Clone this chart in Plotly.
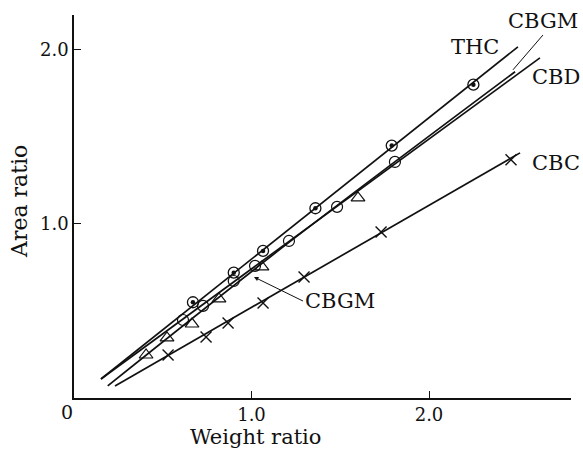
import plotly.graph_objects as go

# Measured points (weight ratio vs. area ratio)
thc_x = [0.67, 0.90, 1.065, 1.36, 1.79, 2.25]
thc_y = [0.55, 0.72, 0.845, 1.09, 1.45, 1.80]

cbd_x = [0.614, 0.727, 0.90, 1.02, 1.211, 1.482, 1.808]
cbd_y = [0.448, 0.529, 0.672, 0.759, 0.902, 1.098, 1.356]

cbgm_x = [0.406, 0.524, 0.665, 0.817, 1.059, 1.60]
cbgm_y = [0.247, 0.345, 0.425, 0.569, 0.753, 1.149]

cbc_x = [0.530, 0.744, 0.868, 1.065, 1.296, 1.730, 2.462]
cbc_y = [0.247, 0.351, 0.431, 0.546, 0.695, 0.954, 1.368]

# Fitted calibration curves
thc_fit_x = [0.152, 2.501]
thc_fit_y = [0.109, 2.017]
cbd_fit_x = [0.152, 2.625]
cbd_fit_y = [0.109, 1.954]
cbgm_fit_x = [0.19, 1.20, 2.485]
cbgm_fit_y = [0.07, 0.885, 1.874]
cbc_fit_x = [0.231, 2.513]
cbc_fit_y = [0.069, 1.408]

x_ticks = [1.0, 2.0]
x_tick_text = ["1.0", "2.0"]
y_ticks = [1.0, 2.0]
y_tick_text = ["1.0", "2.0"]

FONT = "DejaVu Serif"
INK = "#111111"

fig = go.Figure()

line_style = dict(color=INK, width=1.7)
for fx, fy, shape in [
    (thc_fit_x, thc_fit_y, "linear"),
    (cbd_fit_x, cbd_fit_y, "linear"),
    (cbgm_fit_x, cbgm_fit_y, "spline"),
    (cbc_fit_x, cbc_fit_y, "linear"),
]:
    fig.add_trace(go.Scatter(x=fx, y=fy, mode="lines",
                             line=dict(shape=shape, **line_style),
                             hoverinfo="skip", showlegend=False))

# THC: circle with centre dot
fig.add_trace(go.Scatter(x=thc_x, y=thc_y, mode="markers", showlegend=False,
                         marker=dict(symbol="circle-open", size=11, color=INK,
                                     line=dict(width=1.3, color=INK))))
fig.add_trace(go.Scatter(x=thc_x, y=thc_y, mode="markers", showlegend=False,
                         marker=dict(symbol="circle", size=4.5, color=INK)))
# CBD: open circles
fig.add_trace(go.Scatter(x=cbd_x, y=cbd_y, mode="markers", showlegend=False,
                         marker=dict(symbol="circle-open", size=11, color=INK,
                                     line=dict(width=1.2, color=INK))))
# CBGM: open triangles
fig.add_trace(go.Scatter(x=cbgm_x, y=cbgm_y, mode="markers", showlegend=False,
                         marker=dict(symbol="triangle-up-open", size=12, color=INK,
                                     line=dict(width=1.2, color=INK))))
# CBC: crosses
fig.add_trace(go.Scatter(x=cbc_x, y=cbc_y, mode="markers", showlegend=False,
                         marker=dict(symbol="x-thin-open", size=11, color=INK,
                                     line=dict(width=1.4, color=INK))))

label_font = dict(family=FONT, size=21, color=INK)
annotations = [
    dict(text="THC", x=2.259, y=2.017, xref="x", yref="y", showarrow=False,
         font=label_font),
    dict(text="CBD", x=2.715, y=1.845, xref="x", yref="y", showarrow=False,
         font=label_font),
    dict(text="CBC", x=2.715, y=1.351, xref="x", yref="y", showarrow=False,
         font=label_font),
    dict(text="CBGM", x=2.473, y=1.885, xref="x", yref="y",
         ax=2.642, ay=2.085, axref="x", ayref="y",
         xanchor="center", yanchor="bottom",
         showarrow=True, arrowhead=0, arrowwidth=1, arrowcolor=INK,
         font=label_font),
    dict(text="CBGM", x=1.014, y=0.695, xref="x", yref="y",
         ax=1.29, ay=0.557, axref="x", ayref="y",
         xanchor="left", yanchor="middle",
         showarrow=True, arrowhead=2, arrowsize=0.9, arrowwidth=1,
         arrowcolor=INK, font=label_font),
    dict(text="0", x=0, y=0, xref="paper", yref="paper", showarrow=False,
         xanchor="center", yanchor="top", xshift=-7, yshift=-1,
         font=dict(family=FONT, size=19, color=INK)),
    dict(text="Weight ratio", x=1.02, y=0, xref="x", yref="paper",
         showarrow=False, xanchor="center", yanchor="middle", yshift=-39,
         font=dict(family=FONT, size=21, color=INK)),
    dict(text="Area ratio", x=0, y=1.126, xref="paper", yref="y",
         showarrow=False, textangle=-90, xanchor="center", yanchor="middle",
         xshift=-54, font=dict(family=FONT, size=22, color=INK)),
]

axis_common = dict(showgrid=False, zeroline=False, showline=True,
                   linecolor=INK, linewidth=1.6, ticks="inside", ticklen=7,
                   tickwidth=1.2, tickcolor=INK, mirror=False,
                   tickfont=dict(family=FONT, size=18, color=INK))

fig.update_layout(
    width=583, height=451,
    margin=dict(l=74, r=12, t=15, b=53),
    paper_bgcolor="white", plot_bgcolor="white",
    xaxis=dict(range=[0, 2.8], tickvals=x_ticks, ticktext=x_tick_text,
               **axis_common),
    yaxis=dict(range=[0, 2.2], tickvals=y_ticks, ticktext=y_tick_text,
               **axis_common),
    annotations=annotations,
    showlegend=False,
)

fig.write_html("out.html", config={"displayModeBar": False})
